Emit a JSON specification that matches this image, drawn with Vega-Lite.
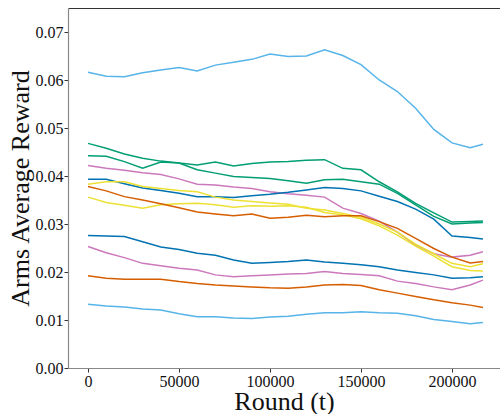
{
  "$schema": "https://vega.github.io/schema/vega-lite/v6.json",
  "autosize": "none",
  "width": 432,
  "height": 360,
  "padding": {"left": 68, "top": 8, "right": 0, "bottom": 46},
  "background": "white",
  "config": {
    "font": "Liberation Serif",
    "view": {"stroke": null},
    "axis": {
      "labelFont": "Liberation Serif", "labelFontSize": 16, "labelColor": "#111",
      "titleFont": "Liberation Serif", "titleFontSize": 26, "titleFontWeight": "normal", "titleColor": "#111",
      "grid": false, "tickColor": "#333", "tickSize": 4, "domainColor": "#888", "domainWidth": 1.2
    }
  },
  "datasets": {
    "arms": [
{"t":0,"v":0.0616,"arm":"a1"},{"t":10000,"v":0.0608,"arm":"a1"},{"t":20000,"v":0.0607,"arm":"a1"},{"t":30000,"v":0.0615,"arm":"a1"},{"t":40000,"v":0.0621,"arm":"a1"},{"t":50000,"v":0.0626,"arm":"a1"},{"t":60000,"v":0.0619,"arm":"a1"},{"t":70000,"v":0.0631,"arm":"a1"},{"t":80000,"v":0.0637,"arm":"a1"},{"t":90000,"v":0.0643,"arm":"a1"},{"t":100000,"v":0.0654,"arm":"a1"},{"t":110000,"v":0.0649,"arm":"a1"},{"t":120000,"v":0.0650,"arm":"a1"},{"t":130000,"v":0.0663,"arm":"a1"},{"t":140000,"v":0.0651,"arm":"a1"},{"t":150000,"v":0.0632,"arm":"a1"},{"t":160000,"v":0.0600,"arm":"a1"},{"t":170000,"v":0.0576,"arm":"a1"},{"t":180000,"v":0.0541,"arm":"a1"},{"t":190000,"v":0.0497,"arm":"a1"},{"t":200000,"v":0.0469,"arm":"a1"},{"t":210000,"v":0.0459,"arm":"a1"},{"t":217000,"v":0.0466,"arm":"a1"},
{"t":0,"v":0.0468,"arm":"a2"},{"t":10000,"v":0.0458,"arm":"a2"},{"t":20000,"v":0.0446,"arm":"a2"},{"t":30000,"v":0.0437,"arm":"a2"},{"t":40000,"v":0.0431,"arm":"a2"},{"t":50000,"v":0.0427,"arm":"a2"},{"t":60000,"v":0.0413,"arm":"a2"},{"t":70000,"v":0.0406,"arm":"a2"},{"t":80000,"v":0.0399,"arm":"a2"},{"t":90000,"v":0.0397,"arm":"a2"},{"t":100000,"v":0.0395,"arm":"a2"},{"t":110000,"v":0.0390,"arm":"a2"},{"t":120000,"v":0.0385,"arm":"a2"},{"t":130000,"v":0.0392,"arm":"a2"},{"t":140000,"v":0.0393,"arm":"a2"},{"t":150000,"v":0.0388,"arm":"a2"},{"t":160000,"v":0.0383,"arm":"a2"},{"t":170000,"v":0.0364,"arm":"a2"},{"t":180000,"v":0.0340,"arm":"a2"},{"t":190000,"v":0.0316,"arm":"a2"},{"t":200000,"v":0.0300,"arm":"a2"},{"t":210000,"v":0.0302,"arm":"a2"},{"t":217000,"v":0.0303,"arm":"a2"},
{"t":0,"v":0.0442,"arm":"a3"},{"t":10000,"v":0.0441,"arm":"a3"},{"t":20000,"v":0.0430,"arm":"a3"},{"t":30000,"v":0.0416,"arm":"a3"},{"t":40000,"v":0.0429,"arm":"a3"},{"t":50000,"v":0.0427,"arm":"a3"},{"t":60000,"v":0.0423,"arm":"a3"},{"t":70000,"v":0.0429,"arm":"a3"},{"t":80000,"v":0.0421,"arm":"a3"},{"t":90000,"v":0.0426,"arm":"a3"},{"t":100000,"v":0.0429,"arm":"a3"},{"t":110000,"v":0.0430,"arm":"a3"},{"t":120000,"v":0.0433,"arm":"a3"},{"t":130000,"v":0.0434,"arm":"a3"},{"t":140000,"v":0.0416,"arm":"a3"},{"t":150000,"v":0.0413,"arm":"a3"},{"t":160000,"v":0.0388,"arm":"a3"},{"t":170000,"v":0.0367,"arm":"a3"},{"t":180000,"v":0.0343,"arm":"a3"},{"t":190000,"v":0.0323,"arm":"a3"},{"t":200000,"v":0.0304,"arm":"a3"},{"t":210000,"v":0.0305,"arm":"a3"},{"t":217000,"v":0.0306,"arm":"a3"},
{"t":0,"v":0.0422,"arm":"a4"},{"t":10000,"v":0.0416,"arm":"a4"},{"t":20000,"v":0.0412,"arm":"a4"},{"t":30000,"v":0.0407,"arm":"a4"},{"t":40000,"v":0.0403,"arm":"a4"},{"t":50000,"v":0.0394,"arm":"a4"},{"t":60000,"v":0.0383,"arm":"a4"},{"t":70000,"v":0.0381,"arm":"a4"},{"t":80000,"v":0.0377,"arm":"a4"},{"t":90000,"v":0.0374,"arm":"a4"},{"t":100000,"v":0.0367,"arm":"a4"},{"t":110000,"v":0.0363,"arm":"a4"},{"t":120000,"v":0.0360,"arm":"a4"},{"t":130000,"v":0.0356,"arm":"a4"},{"t":140000,"v":0.0333,"arm":"a4"},{"t":150000,"v":0.0322,"arm":"a4"},{"t":160000,"v":0.0306,"arm":"a4"},{"t":170000,"v":0.0283,"arm":"a4"},{"t":180000,"v":0.0256,"arm":"a4"},{"t":190000,"v":0.0238,"arm":"a4"},{"t":200000,"v":0.0231,"arm":"a4"},{"t":210000,"v":0.0235,"arm":"a4"},{"t":217000,"v":0.0242,"arm":"a4"},
{"t":0,"v":0.0393,"arm":"a5"},{"t":10000,"v":0.0393,"arm":"a5"},{"t":20000,"v":0.0384,"arm":"a5"},{"t":30000,"v":0.0375,"arm":"a5"},{"t":40000,"v":0.0370,"arm":"a5"},{"t":50000,"v":0.0364,"arm":"a5"},{"t":60000,"v":0.0357,"arm":"a5"},{"t":70000,"v":0.0357,"arm":"a5"},{"t":80000,"v":0.0355,"arm":"a5"},{"t":90000,"v":0.0359,"arm":"a5"},{"t":100000,"v":0.0362,"arm":"a5"},{"t":110000,"v":0.0366,"arm":"a5"},{"t":120000,"v":0.0371,"arm":"a5"},{"t":130000,"v":0.0376,"arm":"a5"},{"t":140000,"v":0.0374,"arm":"a5"},{"t":150000,"v":0.0369,"arm":"a5"},{"t":160000,"v":0.0358,"arm":"a5"},{"t":170000,"v":0.0347,"arm":"a5"},{"t":180000,"v":0.0331,"arm":"a5"},{"t":190000,"v":0.0310,"arm":"a5"},{"t":200000,"v":0.0275,"arm":"a5"},{"t":210000,"v":0.0272,"arm":"a5"},{"t":217000,"v":0.0269,"arm":"a5"},
{"t":0,"v":0.0383,"arm":"a6"},{"t":10000,"v":0.0388,"arm":"a6"},{"t":20000,"v":0.0388,"arm":"a6"},{"t":30000,"v":0.0378,"arm":"a6"},{"t":40000,"v":0.0374,"arm":"a6"},{"t":50000,"v":0.0370,"arm":"a6"},{"t":60000,"v":0.0367,"arm":"a6"},{"t":70000,"v":0.0356,"arm":"a6"},{"t":80000,"v":0.0350,"arm":"a6"},{"t":90000,"v":0.0347,"arm":"a6"},{"t":100000,"v":0.0344,"arm":"a6"},{"t":110000,"v":0.0341,"arm":"a6"},{"t":120000,"v":0.0333,"arm":"a6"},{"t":130000,"v":0.0329,"arm":"a6"},{"t":140000,"v":0.0322,"arm":"a6"},{"t":150000,"v":0.0314,"arm":"a6"},{"t":160000,"v":0.0300,"arm":"a6"},{"t":170000,"v":0.0283,"arm":"a6"},{"t":180000,"v":0.0258,"arm":"a6"},{"t":190000,"v":0.0238,"arm":"a6"},{"t":200000,"v":0.0218,"arm":"a6"},{"t":210000,"v":0.0211,"arm":"a6"},{"t":217000,"v":0.0217,"arm":"a6"},
{"t":0,"v":0.0356,"arm":"a7"},{"t":10000,"v":0.0345,"arm":"a7"},{"t":20000,"v":0.0339,"arm":"a7"},{"t":30000,"v":0.0333,"arm":"a7"},{"t":40000,"v":0.0340,"arm":"a7"},{"t":50000,"v":0.0342,"arm":"a7"},{"t":60000,"v":0.0343,"arm":"a7"},{"t":70000,"v":0.0340,"arm":"a7"},{"t":80000,"v":0.0335,"arm":"a7"},{"t":90000,"v":0.0338,"arm":"a7"},{"t":100000,"v":0.0337,"arm":"a7"},{"t":110000,"v":0.0338,"arm":"a7"},{"t":120000,"v":0.0335,"arm":"a7"},{"t":130000,"v":0.0324,"arm":"a7"},{"t":140000,"v":0.0319,"arm":"a7"},{"t":150000,"v":0.0311,"arm":"a7"},{"t":160000,"v":0.0296,"arm":"a7"},{"t":170000,"v":0.0277,"arm":"a7"},{"t":180000,"v":0.0254,"arm":"a7"},{"t":190000,"v":0.0233,"arm":"a7"},{"t":200000,"v":0.0211,"arm":"a7"},{"t":210000,"v":0.0203,"arm":"a7"},{"t":217000,"v":0.0202,"arm":"a7"},
{"t":0,"v":0.0378,"arm":"a8"},{"t":10000,"v":0.0369,"arm":"a8"},{"t":20000,"v":0.0357,"arm":"a8"},{"t":30000,"v":0.0350,"arm":"a8"},{"t":40000,"v":0.0342,"arm":"a8"},{"t":50000,"v":0.0334,"arm":"a8"},{"t":60000,"v":0.0325,"arm":"a8"},{"t":70000,"v":0.0321,"arm":"a8"},{"t":80000,"v":0.0317,"arm":"a8"},{"t":90000,"v":0.0321,"arm":"a8"},{"t":100000,"v":0.0312,"arm":"a8"},{"t":110000,"v":0.0314,"arm":"a8"},{"t":120000,"v":0.0318,"arm":"a8"},{"t":130000,"v":0.0315,"arm":"a8"},{"t":140000,"v":0.0317,"arm":"a8"},{"t":150000,"v":0.0317,"arm":"a8"},{"t":160000,"v":0.0305,"arm":"a8"},{"t":170000,"v":0.0291,"arm":"a8"},{"t":180000,"v":0.0270,"arm":"a8"},{"t":190000,"v":0.0249,"arm":"a8"},{"t":200000,"v":0.0231,"arm":"a8"},{"t":210000,"v":0.0219,"arm":"a8"},{"t":217000,"v":0.0222,"arm":"a8"},
{"t":0,"v":0.0276,"arm":"a9"},{"t":10000,"v":0.0275,"arm":"a9"},{"t":20000,"v":0.0274,"arm":"a9"},{"t":30000,"v":0.0263,"arm":"a9"},{"t":40000,"v":0.0252,"arm":"a9"},{"t":50000,"v":0.0247,"arm":"a9"},{"t":60000,"v":0.0239,"arm":"a9"},{"t":70000,"v":0.0235,"arm":"a9"},{"t":80000,"v":0.0225,"arm":"a9"},{"t":90000,"v":0.0218,"arm":"a9"},{"t":100000,"v":0.0220,"arm":"a9"},{"t":110000,"v":0.0222,"arm":"a9"},{"t":120000,"v":0.0225,"arm":"a9"},{"t":130000,"v":0.0221,"arm":"a9"},{"t":140000,"v":0.0218,"arm":"a9"},{"t":150000,"v":0.0215,"arm":"a9"},{"t":160000,"v":0.0211,"arm":"a9"},{"t":170000,"v":0.0204,"arm":"a9"},{"t":180000,"v":0.0199,"arm":"a9"},{"t":190000,"v":0.0194,"arm":"a9"},{"t":200000,"v":0.0187,"arm":"a9"},{"t":210000,"v":0.0188,"arm":"a9"},{"t":217000,"v":0.0190,"arm":"a9"},
{"t":0,"v":0.0253,"arm":"a10"},{"t":10000,"v":0.0240,"arm":"a10"},{"t":20000,"v":0.0230,"arm":"a10"},{"t":30000,"v":0.0218,"arm":"a10"},{"t":40000,"v":0.0213,"arm":"a10"},{"t":50000,"v":0.0208,"arm":"a10"},{"t":60000,"v":0.0204,"arm":"a10"},{"t":70000,"v":0.0194,"arm":"a10"},{"t":80000,"v":0.0190,"arm":"a10"},{"t":90000,"v":0.0192,"arm":"a10"},{"t":100000,"v":0.0194,"arm":"a10"},{"t":110000,"v":0.0196,"arm":"a10"},{"t":120000,"v":0.0197,"arm":"a10"},{"t":130000,"v":0.0201,"arm":"a10"},{"t":140000,"v":0.0197,"arm":"a10"},{"t":150000,"v":0.0195,"arm":"a10"},{"t":160000,"v":0.0192,"arm":"a10"},{"t":170000,"v":0.0181,"arm":"a10"},{"t":180000,"v":0.0176,"arm":"a10"},{"t":190000,"v":0.0169,"arm":"a10"},{"t":200000,"v":0.0163,"arm":"a10"},{"t":210000,"v":0.0173,"arm":"a10"},{"t":217000,"v":0.0183,"arm":"a10"},
{"t":0,"v":0.0192,"arm":"a11"},{"t":10000,"v":0.0187,"arm":"a11"},{"t":20000,"v":0.0185,"arm":"a11"},{"t":30000,"v":0.0185,"arm":"a11"},{"t":40000,"v":0.0185,"arm":"a11"},{"t":50000,"v":0.0180,"arm":"a11"},{"t":60000,"v":0.0176,"arm":"a11"},{"t":70000,"v":0.0173,"arm":"a11"},{"t":80000,"v":0.0171,"arm":"a11"},{"t":90000,"v":0.0169,"arm":"a11"},{"t":100000,"v":0.0167,"arm":"a11"},{"t":110000,"v":0.0166,"arm":"a11"},{"t":120000,"v":0.0169,"arm":"a11"},{"t":130000,"v":0.0173,"arm":"a11"},{"t":140000,"v":0.0174,"arm":"a11"},{"t":150000,"v":0.0172,"arm":"a11"},{"t":160000,"v":0.0163,"arm":"a11"},{"t":170000,"v":0.0156,"arm":"a11"},{"t":180000,"v":0.0149,"arm":"a11"},{"t":190000,"v":0.0142,"arm":"a11"},{"t":200000,"v":0.0136,"arm":"a11"},{"t":210000,"v":0.0131,"arm":"a11"},{"t":217000,"v":0.0126,"arm":"a11"},
{"t":0,"v":0.0133,"arm":"a12"},{"t":10000,"v":0.0129,"arm":"a12"},{"t":20000,"v":0.0127,"arm":"a12"},{"t":30000,"v":0.0123,"arm":"a12"},{"t":40000,"v":0.0121,"arm":"a12"},{"t":50000,"v":0.0113,"arm":"a12"},{"t":60000,"v":0.0107,"arm":"a12"},{"t":70000,"v":0.0107,"arm":"a12"},{"t":80000,"v":0.0104,"arm":"a12"},{"t":90000,"v":0.0103,"arm":"a12"},{"t":100000,"v":0.0106,"arm":"a12"},{"t":110000,"v":0.0108,"arm":"a12"},{"t":120000,"v":0.0112,"arm":"a12"},{"t":130000,"v":0.0115,"arm":"a12"},{"t":140000,"v":0.0115,"arm":"a12"},{"t":150000,"v":0.0117,"arm":"a12"},{"t":160000,"v":0.0115,"arm":"a12"},{"t":170000,"v":0.0114,"arm":"a12"},{"t":180000,"v":0.0109,"arm":"a12"},{"t":190000,"v":0.0101,"arm":"a12"},{"t":200000,"v":0.0097,"arm":"a12"},{"t":210000,"v":0.0092,"arm":"a12"},{"t":217000,"v":0.0095,"arm":"a12"}
    ]
  },
  "data": {"name": "arms"},
  "layer": [
    {
      "mark": {"type": "line", "strokeWidth": 1.5, "clip": true},
      "encoding": {
        "x": {"field": "t", "type": "quantitative",
              "scale": {"domain": [-10989, 226374], "nice": false, "zero": false},
              "axis": {"values": [0, 50000, 100000, 150000, 200000], "format": "d", "title": "Round (t)", "orient": "bottom",
                       "labelFont": "Liberation Serif", "labelPadding": 1, "titleY": 41, "titleBaseline": "alphabetic"}},
        "y": {"field": "v", "type": "quantitative",
              "scale": {"domain": [0, 0.075], "nice": false, "zero": true},
              "axis": {"values": [0, 0.01, 0.02, 0.03, 0.04, 0.05, 0.06, 0.07], "format": ".2f", "title": "Arms Average Reward",
                       "labelFont": "Liberation Serif", "labelPadding": 1, "titlePadding": 2}},
        "color": {"field": "arm", "type": "nominal", "legend": null,
                  "scale": {"domain": ["a1","a2","a3","a4","a5","a6","a7","a8","a9","a10","a11","a12"],
                            "range": ["#56b4e9","#029e73","#029e73","#cc78bc","#0173b2","#ece133","#ece133","#d55e00","#0173b2","#cc78bc","#d55e00","#56b4e9"]}},
        "detail": {"field": "arm", "type": "nominal"}
      }
    },
    {
      "mark": {"type": "point", "opacity": 0},
      "encoding": {
        "x": {"field": "t", "type": "quantitative",
              "axis": {"orient": "top", "labels": false, "ticks": false, "title": null, "domainColor": "#333"}}
      }
    }
  ],
  "resolve": {"axis": {"x": "independent"}}
}
